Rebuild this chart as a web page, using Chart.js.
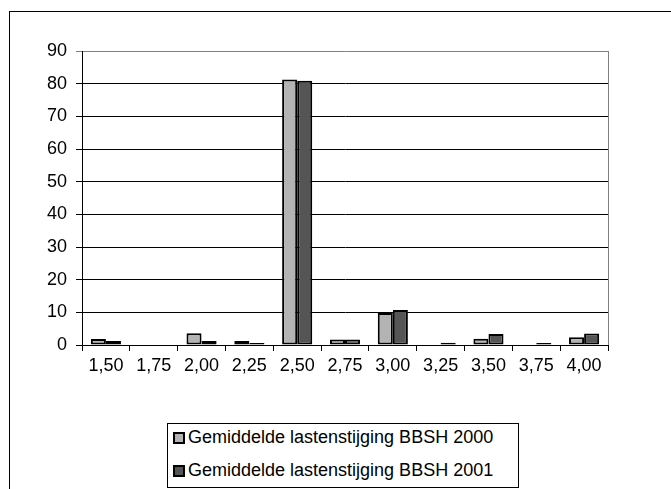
<!DOCTYPE html>
<html>
<head>
<meta charset="utf-8">
<script src="https://cdn.jsdelivr.net/npm/chart.js@4/dist/chart.umd.min.js"></script>
<style>
  html, body { margin: 0; padding: 0; background: #fff; }
  #wrap { position: relative; width: 671px; height: 489px; overflow: hidden; }
  #chart { display: block; }
  #legend {
    position: absolute; left: 167px; top: 423px; width: 352px; height: 65px;
    box-sizing: border-box; border: 1px solid #000; background: #fff;
    padding: 3px 0 0 5px;
    font-family: "Liberation Sans", Arial, sans-serif; font-size: 18px; color: #000;
  }
  #legend .row { height: 20px; line-height: 20px; margin-bottom: 13px; white-space: nowrap; }
  #legend .sw {
    display: inline-block; width: 12px; height: 12px; box-sizing: border-box;
    border: 2px solid #000; margin-right: 3px; vertical-align: -1px;
  }
</style>
</head>
<body>
<div id="wrap">
  <canvas id="chart" width="671" height="489"></canvas>
  <div id="legend"></div>
</div>
<script>
// Categories (x axis)
const categories = ['1,50', '1,75', '2,00', '2,25', '2,50', '2,75', '3,00', '3,25', '3,50', '3,75', '4,00'];

// Series values
const series2000 = [1.8, 0, 3.6, 1.2, 81.3, 1.7, 9.8, 0, 1.9, 0, 2.4];
const series2001 = [1.2, 0, 1.2, 0.6, 80.9, 1.7, 10.7, 0.7, 3.4, 0.6, 3.5];

// Series names
const seriesNames = ['Gemiddelde lastenstijging BBSH 2000', 'Gemiddelde lastenstijging BBSH 2001'];

// Y axis ticks
const yTicks = [0, 10, 20, 30, 40, 50, 60, 70, 80, 90];

const FONT = { family: '"Liberation Sans", Arial, sans-serif', size: 18 };

// Outer frame and plot-area right edge
const framePlugin = {
  id: 'frame',
  beforeDraw(chart) {
    const ctx = chart.ctx;
    ctx.save();
    ctx.fillStyle = '#fff';
    ctx.fillRect(0, 0, chart.width, chart.height);
    ctx.strokeStyle = '#000';
    ctx.lineWidth = 1;
    ctx.strokeRect(9.5, 11.5, 1000, 1000);
    ctx.restore();
  },
  afterDatasetsDraw(chart) {
    const a = chart.chartArea, ctx = chart.ctx;
    ctx.save();
    ctx.strokeStyle = '#808080';
    ctx.lineWidth = 1;
    ctx.beginPath();
    ctx.moveTo(Math.round(a.right) + 0.5, a.top);
    ctx.lineTo(Math.round(a.right) + 0.5, a.bottom);
    ctx.stroke();
    ctx.restore();
  }
};

const chart = new Chart(document.getElementById('chart'), {
  type: 'bar',
  data: {
    labels: categories,
    datasets: [
      { label: seriesNames[0], data: series2000, backgroundColor: '#b3b3b3' },
      { label: seriesNames[1], data: series2001, backgroundColor: '#555555' }
    ]
  },
  options: {
    responsive: false,
    devicePixelRatio: 1,
    animation: false,
    layout: { padding: { top: 51, right: 63, left: 0, bottom: 0 } },
    datasets: {
      bar: {
        categoryPercentage: 0.63,
        barPercentage: 1.0,
        borderColor: '#000',
        borderWidth: 2,
        borderSkipped: false
      }
    },
    plugins: {
      legend: { display: false },
      tooltip: { enabled: false }
    },
    scales: {
      x: {
        offset: true,
        grid: {
          offset: true,
          drawOnChartArea: false,
          drawTicks: true,
          tickLength: 6,
          color: '#000'
        },
        border: { color: '#000', width: 1 },
        ticks: { color: '#000', font: FONT, padding: 4, maxRotation: 0, autoSkip: false },
        afterFit(s) { s.height = 144; }
      },
      y: {
        min: 0,
        max: 90,
        afterBuildTicks(s) { s.ticks = yTicks.map(v => ({ value: v })); },
        grid: {
          color: c => (c.tick && c.tick.value === 90 ? '#808080' : '#000'),
          tickLength: 6,
          drawTicks: true
        },
        border: { color: '#000', width: 1 },
        ticks: { color: '#000', font: FONT, padding: 9 },
        afterFit(s) { s.width = 82; }
      }
    }
  },
  plugins: [framePlugin]
});

// Legend built from the chart's datasets
const legendEl = document.getElementById('legend');
chart.data.datasets.forEach(ds => {
  const row = document.createElement('div');
  row.className = 'row';
  const sw = document.createElement('span');
  sw.className = 'sw';
  sw.style.background = ds.backgroundColor;
  row.appendChild(sw);
  row.appendChild(document.createTextNode(ds.label));
  legendEl.appendChild(row);
});
</script>
</body>
</html>
